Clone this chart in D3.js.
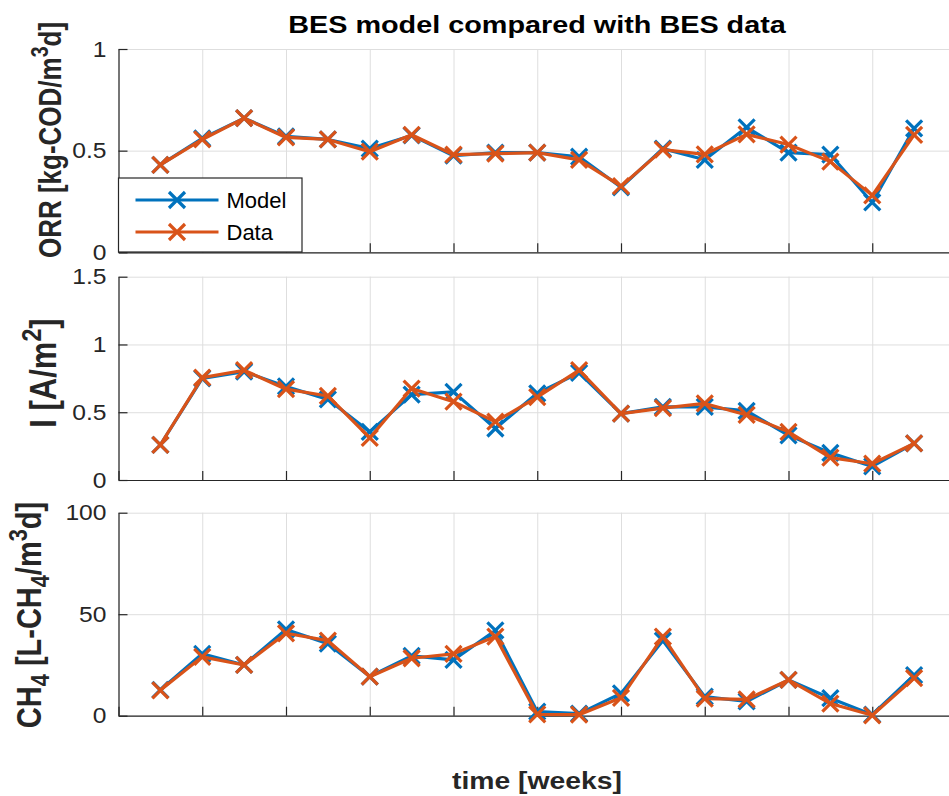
<!DOCTYPE html>
<html>
<head>
<meta charset="utf-8">
<script src="https://cdn.jsdelivr.net/npm/d3@7"></script>
<style>
body { margin: 0; background: #fff; }
svg { display: block; font-family: "Liberation Sans", Arial, sans-serif; }
.grid line { stroke: #dedede; stroke-width: 1; }
.grid .domain { display: none; }
.axis .domain, .axis line { stroke: #262626; stroke-width: 1.2; }
.axis text { fill: #262626; font-size: 22px; }
</style>
</head>
<body>
<svg width="949" height="796"></svg>
<script>
// weeks on the x axis
var weeks = [1, 2, 3, 4, 5, 6, 7, 8, 9, 10, 11, 12, 13, 14, 15, 16, 17, 18, 19];
var xTicks = [0, 2, 4, 6, 8, 10, 12, 14, 16, 18, 20];

// ORR [kg-COD/m3d]
var orrModel = [0.43, 0.56, 0.66, 0.57, 0.555, 0.51, 0.575, 0.475, 0.49, 0.49, 0.47, 0.32, 0.51, 0.455, 0.615, 0.49, 0.48, 0.245, 0.61];
var orrData  = [0.43, 0.555, 0.66, 0.565, 0.555, 0.495, 0.578, 0.48, 0.485, 0.49, 0.455, 0.325, 0.505, 0.482, 0.58, 0.53, 0.446, 0.28, 0.578];

// I [A/m2]
var curModel = [0.26, 0.75, 0.80, 0.69, 0.595, 0.355, 0.63, 0.65, 0.38, 0.64, 0.79, 0.49, 0.54, 0.54, 0.51, 0.33, 0.2, 0.1, 0.27];
var curData  = [0.26, 0.755, 0.81, 0.67, 0.62, 0.31, 0.675, 0.578, 0.43, 0.612, 0.81, 0.49, 0.53, 0.565, 0.48, 0.355, 0.165, 0.12, 0.27];

// CH4 [L-CH4/m3d]
var ch4Model = [12.7, 30.5, 25, 42.5, 35.5, 19.3, 29.5, 27.5, 42, 2, 1, 11, 37, 9.4, 7, 17.6, 8.6, 0.5, 20];
var ch4Data  = [12.5, 29, 25, 40.6, 37, 19.2, 28.3, 30.5, 39, 0.6, 0.5, 8.8, 39, 8.4, 8, 17.6, 6, 0.2, 18.5];

var seriesNames = ["Model", "Data"];
var colors = ["#0072BD", "#D95319"];

var svg = d3.select("svg");

// x axis runs past the right edge of the picture (xlim 0..20)
var x = d3.scaleLinear().domain([0, 20]).range([118.5, 956]);

var panels = [
  { domain: [0, 1],   ticks: [0, 0.5, 1],      top: 49,    bottom: 252.3, series: [orrModel, orrData] },
  { domain: [0, 1.5], ticks: [0, 0.5, 1, 1.5], top: 276.7, bottom: 480,   series: [curModel, curData] },
  { domain: [0, 100], ticks: [0, 50, 100],     top: 512.7, bottom: 715.7, series: [ch4Model, ch4Data] }
];

function stretchText(sel, sx) {
  sel.each(function() {
    var t = d3.select(this);
    var tx = +t.attr("x") || 0;
    t.attr("x", 0).attr("transform", "translate(" + tx + ",0) scale(" + sx + ",1)");
  });
}

function xMarker(s) {
  return "M" + (-s) + "," + (-s) + "L" + s + "," + s + "M" + (-s) + "," + s + "L" + s + "," + (-s);
}

panels.forEach(function(p) {
  var y = d3.scaleLinear().domain(p.domain).range([p.bottom, p.top]);
  var h = p.bottom - p.top;
  var g = svg.append("g");

  // grid
  g.append("g").attr("class", "grid")
    .attr("transform", "translate(0," + p.bottom + ")")
    .call(d3.axisBottom(x).tickValues(xTicks).tickSize(-h).tickFormat(""));
  g.append("g").attr("class", "grid")
    .attr("transform", "translate(" + x(0) + ",0)")
    .call(d3.axisLeft(y).tickValues(p.ticks).tickSize(-(x(20) - x(0))).tickFormat(""));

  // axes, ticks pointing inside
  var ay = g.append("g").attr("class", "axis")
    .attr("transform", "translate(" + x(0) + ",0)")
    .call(d3.axisLeft(y).tickValues(p.ticks).tickSize(-9).tickSizeOuter(0).tickPadding(12).tickFormat(d3.format("~g")));
  stretchText(ay.selectAll("text"), 1.12);
  g.append("g").attr("class", "axis")
    .attr("transform", "translate(0," + p.bottom + ")")
    .call(d3.axisBottom(x).tickValues(xTicks).tickSize(-9).tickSizeOuter(0).tickFormat(""));

  var line = d3.line()
    .x(function(d, i) { return x(weeks[i]); })
    .y(function(d) { return y(d); });

  p.series.forEach(function(vals, k) {
    var sg = g.append("g");
    sg.append("path")
      .attr("d", line(vals))
      .attr("fill", "none")
      .attr("stroke", colors[k])
      .attr("stroke-width", 3.2)
      .attr("stroke-linejoin", "round");
    sg.selectAll("path.mk")
      .data(vals)
      .enter().append("path")
      .attr("class", "mk")
      .attr("d", xMarker(8))
      .attr("transform", function(d, i) { return "translate(" + x(weeks[i]) + "," + y(d) + ")"; })
      .attr("stroke", colors[k])
      .attr("stroke-width", 3.2);
  });
});

// legend in first panel
var leg = svg.append("g").attr("transform", "translate(118.5,178)");
leg.append("rect")
  .attr("width", 183.5).attr("height", 74)
  .attr("fill", "#fff").attr("stroke", "#262626").attr("stroke-width", 1.2);
seriesNames.forEach(function(name, k) {
  var ly = 22 + k * 32;
  leg.append("line").attr("x1", 17).attr("x2", 100).attr("y1", ly).attr("y2", ly)
    .attr("stroke", colors[k]).attr("stroke-width", 3.2);
  leg.append("path").attr("d", xMarker(8)).attr("transform", "translate(58.5," + ly + ")")
    .attr("stroke", colors[k]).attr("stroke-width", 3.2);
  leg.append("text").attr("x", 108).attr("y", ly).attr("dy", "0.35em")
    .attr("font-size", 22).attr("fill", "#000").text(name);
});

// title and labels (the picture is a little wider than tall, so text is stretched sideways)
function boldText(x0, y0, rot, size, sx, sy, parts, color) {
  var t = svg.append("text")
    .attr("transform", "translate(" + x0 + "," + y0 + ") rotate(" + rot + ") scale(" + sx + "," + sy + ")")
    .attr("text-anchor", "middle")
    .attr("font-size", size)
    .attr("font-weight", "bold")
    .attr("fill", color);
  parts.forEach(function(pt) {
    var s = t.append("tspan").text(pt.t);
    if (pt.sup) s.attr("font-size", size * 0.75).attr("baseline-shift", "55%");
    if (pt.sub) s.attr("font-size", size * 0.75).attr("baseline-shift", "-30%");
  });
  return t;
}

boldText(537, 33, 0, 24, 1.2, 1, [{ t: "BES model compared with BES data" }], "#000");
boldText(537, 789, 0, 24, 1.18, 1, [{ t: "time [weeks]" }], "#262626");
boldText(61, 140, -90, 26, 1, 1.22, [{ t: "ORR [kg-COD/m" }, { t: "3", sup: true }, { t: "d]" }], "#262626");
boldText(56, 373, -90, 31, 1, 1.18, [{ t: "I [A/m" }, { t: "2", sup: true }, { t: "]" }], "#262626");
boldText(41, 615, -90, 29, 1, 1.18, [{ t: "CH" }, { t: "4", sub: true }, { t: " [L-CH" }, { t: "4", sub: true }, { t: "/m" }, { t: "3", sup: true }, { t: "d]" }], "#262626");
</script>
</body>
</html>
